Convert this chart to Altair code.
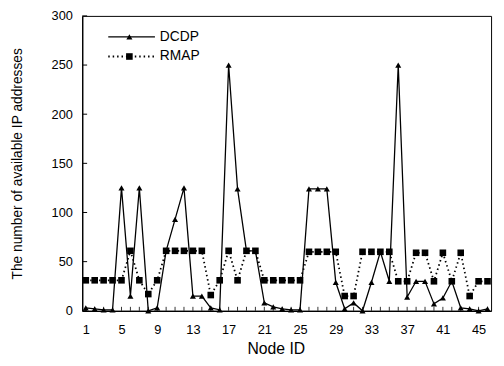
import altair as alt
import pandas as pd

node_ids = list(range(1, 47))
dcdp = [3, 2, 1, 1, 125, 15, 125, 0, 3, 61, 93, 125, 15, 15, 3, 1, 250, 124, 61, 61,
        8, 4, 2, 1, 1, 124, 124, 124, 29, 2, 8, 0, 29, 60, 30, 250, 14, 30, 30, 7,
        13, 30, 3, 2, 0, 2]
rmap = [31, 31, 31, 31, 31, 61, 31, 17, 31, 61, 61, 61, 61, 61, 16, 31, 61, 31, 61, 61,
        31, 31, 31, 31, 31, 60, 60, 60, 60, 15, 15, 60, 60, 60, 60, 30, 30, 59, 59, 30,
        59, 30, 59, 15, 30, 30]
series_names = ["DCDP", "RMAP"]
x_label_values = [1, 5, 9, 13, 17, 21, 25, 29, 33, 37, 41, 45]
y_tick_values = [0, 50, 100, 150, 200, 250, 300]

df = pd.DataFrame({
    "node": node_ids * 2,
    "value": dcdp + rmap,
    "series": [series_names[0]] * len(dcdp) + [series_names[1]] * len(rmap),
})
d_dcdp = df[df.series == "DCDP"]
d_rmap = df[df.series == "RMAP"]

W, H = 416, 300
FONT = "Liberation Sans"
xscale = alt.Scale(domain=[0.6, 46.4], nice=False, zero=False)
yscale = alt.Scale(domain=[0, 300], nice=False)

x_axis = alt.Axis(values=x_label_values, title="Node ID", grid=False, ticks=False,
                  domainColor="black", domainWidth=1.3, labelFont=FONT, labelFontSize=13,
                  labelColor="black", labelPadding=13, labelAngle=0,
                  titleFont=FONT, titleFontSize=16, titleFontWeight="normal", titleColor="black",
                  titleX=197, titleY=38, titleBaseline="middle", titleAlign="center")
y_axis = alt.Axis(values=y_tick_values, title="The number of available IP addresses", grid=False,
                  ticks=False, domainColor="black", domainWidth=1.3, labelFont=FONT,
                  labelFontSize=13, labelColor="black", labelPadding=10,
                  titleFont=FONT, titleFontSize=14, titleFontWeight="normal", titleColor="black",
                  titleAngle=270, titleX=-66, titleY=150, titleBaseline="middle", titleAlign="center")

X = alt.X("node:Q", scale=xscale, axis=x_axis, title="Node ID")
Y = alt.Y("value:Q", scale=yscale, axis=y_axis, title="The number of available IP addresses")

rmap_line = alt.Chart(d_rmap).mark_line(color="black", strokeWidth=1.8, strokeDash=[1.5, 3]).encode(x=X, y=Y)
rmap_pts = alt.Chart(d_rmap).mark_point(shape="square", filled=True, color="black", size=45, opacity=1).encode(x=X, y=Y)
dcdp_line = alt.Chart(d_dcdp).mark_line(color="black", strokeWidth=1.3).encode(x=X, y=Y)
dcdp_pts = alt.Chart(d_dcdp).mark_point(shape="triangle-up", filled=True, color="black", size=38, opacity=1).encode(x=X, y=Y)

# inward tick marks
yt = pd.DataFrame({"value": y_tick_values})
y_ticks = alt.Chart(yt).mark_rule(color="black", strokeWidth=1).encode(
    y=Y, x=alt.value(0), x2=alt.value(5),
)
xt = pd.DataFrame({"node": node_ids})
x_ticks = alt.Chart(xt).mark_rule(color="black", strokeWidth=0.8).encode(
    x=X, y=alt.value(H - 4), y2=alt.value(H),
)

# legend
LX0, LX1, LXM, LXT = 26.5, 74, 48, 79
LY = [21.3, 41.3]
leg_d = pd.DataFrame({"series": [series_names[0]]})
leg_r = pd.DataFrame({"series": [series_names[1]]})
leg = [
    alt.Chart(leg_d).mark_rule(color="black", strokeWidth=1.3).encode(
        x=alt.value(LX0), x2=alt.value(LX1), y=alt.value(LY[0])),
    alt.Chart(leg_d).mark_point(shape="triangle-up", filled=True, color="black", size=38, opacity=1).encode(
        x=alt.value(LXM), y=alt.value(LY[0])),
    alt.Chart(leg_d).mark_text(align="left", baseline="middle", font=FONT, fontSize=14, color="black").encode(
        x=alt.value(LXT), y=alt.value(LY[0]), text="series:N"),
    alt.Chart(leg_r).mark_rule(color="black", strokeWidth=1.8, strokeDash=[1.5, 3]).encode(
        x=alt.value(LX0), x2=alt.value(LX1), y=alt.value(LY[1])),
    alt.Chart(leg_r).mark_point(shape="square", filled=True, color="black", size=45, opacity=1).encode(
        x=alt.value(LXM), y=alt.value(LY[1])),
    alt.Chart(leg_r).mark_text(align="left", baseline="middle", font=FONT, fontSize=14, color="black").encode(
        x=alt.value(LXT), y=alt.value(LY[1]), text="series:N"),
]

chart = alt.layer(rmap_line, rmap_pts, dcdp_line, dcdp_pts, y_ticks, x_ticks, *leg).properties(
    width=W, height=H,
    autosize=alt.AutoSizeParams(type="none"),
    padding={"left": 75.5, "top": 5, "right": 5, "bottom": 45},
    background="white",
).configure_view(stroke="black", strokeWidth=1)

chart.save("out.html", embed_options={"renderer": "svg", "actions": False})
